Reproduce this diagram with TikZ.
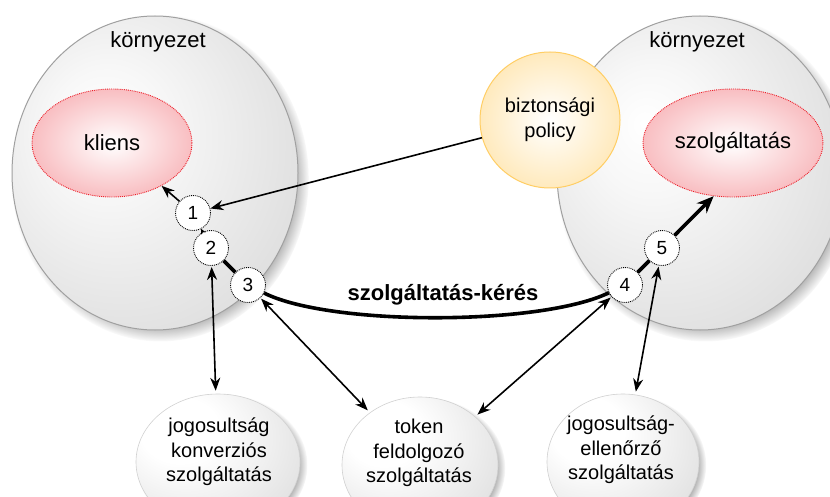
\documentclass[tikz,border=0pt]{standalone}
\usepackage{fontspec}
\setmainfont{Liberation Sans}
\usetikzlibrary{shapes.geometric,arrows.meta,shadows}

\definecolor{envline}{RGB}{160,160,160}
\definecolor{redline}{RGB}{236,30,40}
\definecolor{pinkedge}{RGB}{242,125,132}
\definecolor{sunedge}{RGB}{255,212,122}
\definecolor{sunline}{RGB}{255,206,100}

% soft grey sphere, lit from the upper left
\pgfdeclareradialshading{envshade}{\pgfpoint{-10bp}{8bp}}{color(0bp)=(white); color(10bp)=(black!3); color(50bp)=(black!20); color(64bp)=(black!26)}
% red core, white in the middle
\pgfdeclareradialshading{redshade}{\pgfpoint{0bp}{0bp}}{color(0bp)=(white); color(5bp)=(pinkedge!10); color(50bp)=(pinkedge); color(60bp)=(pinkedge)}
% yellow policy disc
\pgfdeclareradialshading{sunshade}{\pgfpoint{0bp}{0bp}}{color(0bp)=(white); color(8bp)=(sunedge!15); color(50bp)=(sunedge); color(60bp)=(sunedge)}
% small grey bubbles of the services
\pgfdeclareradialshading{bubshade}{\pgfpoint{-14bp}{14bp}}{color(0bp)=(white); color(12bp)=(white); color(50bp)=(black!18); color(72bp)=(black!32)}

\begin{document}
\begin{tikzpicture}[x=1pt,y=-1pt,
  env/.style={ellipse, draw=envline, line width=1pt, shading=envshade,
    minimum width=286pt, minimum height=314pt, inner sep=0pt,
    circular drop shadow={shadow xshift=5pt, shadow yshift=-5pt, shadow scale=1.04, opacity=0.9}},
  envlabel/.style={font=\fontsize{22}{26}\selectfont, inner sep=0pt},
  core/.style={ellipse, draw=redline, densely dotted, line width=0.9pt,
    shading=redshade, inner sep=0pt, font=\fontsize{22}{26}\selectfont},
  policybox/.style={ellipse, draw=sunline, line width=1pt, shading=sunshade,
    inner sep=0pt, align=center, font=\fontsize{20}{25}\selectfont},
  svc/.style={ellipse, draw=black!18, line width=0.6pt, shading=bubshade, inner sep=0pt,
    circular drop shadow={shadow xshift=4pt, shadow yshift=-3pt, shadow scale=1.04, opacity=0.8}},
  svctext/.style={align=center, inner sep=0pt, font=\fontsize{20}{24.5}\selectfont},
  num/.style={circle, draw=black, densely dotted, line width=0.9pt, fill=white,
    minimum size=35pt, inner sep=0pt, font=\fontsize{19}{22}\selectfont},
  thinarrow/.style={line width=1.6pt, -{Stealth[length=13pt,width=10pt]}},
  twoway/.style={line width=1.6pt, {Stealth[length=13pt,width=10pt]}-{Stealth[length=13pt,width=10pt]},
    shorten <=1pt, shorten >=3pt},
  heavy/.style={line width=3.6pt},
  heavyarrow/.style={line width=3.6pt, -{Stealth[length=17pt,width=14pt]}}
]
\clip (0,0) rectangle (830,497);
\fill[white] (0,0) rectangle (830,497);

% the two environments
\node[env] (envL) at (155,173) {};
\node[env] (envR) at (700,173) {};
\node[envlabel] (envLt) at (158,42) {környezet};
\node[envlabel] (envRt) at (697,42) {környezet};

% security policy
\node[policybox, minimum width=140pt, minimum height=136pt] (policy) at (550,120) {biztonsági\\policy};

% client and service
\node[core, minimum width=160pt, minimum height=108pt] (kliens) at (112,143) {kliens};
\node[core, minimum width=180pt, minimum height=108pt] (szolg) at (733,143) {szolgáltatás};

% the three helper services
\node[svc, minimum width=164pt, minimum height=136pt] (b1) at (218,462) {};
\node[svc, minimum width=156pt, minimum height=136pt] (b2) at (420,465) {};
\node[svc, minimum width=152pt, minimum height=136pt] (b3) at (623,462) {};
\node[svctext] (b1t) at (219,452) {jogosultság\\konverziós\\szolgáltatás};
\node[svctext] (b2t) at (419,453) {token\\feldolgozó\\szolgáltatás};
\node[svctext] (b3t) at (621,450) {jogosultság-\\ellenőrző\\szolgáltatás};

% numbered steps
\node[num] (n1) at (193,213) {1};
\node[num] (n2) at (211,248) {2};
\node[num] (n3) at (248,285) {3};
\node[num] (n4) at (625,285) {4};
\node[num] (n5) at (662,248) {5};

% connectors
\draw[thinarrow] (policy) -- (n1);
\draw[thinarrow] (n1) -- (kliens);
\draw[line width=1.2pt, -{Stealth[length=5pt,width=5pt]}] (n2) -- (n1);
\draw[heavy] (n2) -- (n3);
\draw[heavy] (n3) .. controls (330,326) and (540,326) .. (n4);
\node[font=\bfseries\fontsize{22}{26}\selectfont, inner sep=0pt] (req) at (443,295) {szolgáltatás-kérés};
\draw[heavy] (n4) -- (n5);
\draw[heavyarrow] (n5) -- (szolg.250);
\draw[twoway] (n2) -- (b1);
\draw[twoway] (n3) -- (b2);
\draw[twoway] (n4) -- (b2);
\draw[twoway] (n5) -- (b3);
\end{tikzpicture}
\end{document}
